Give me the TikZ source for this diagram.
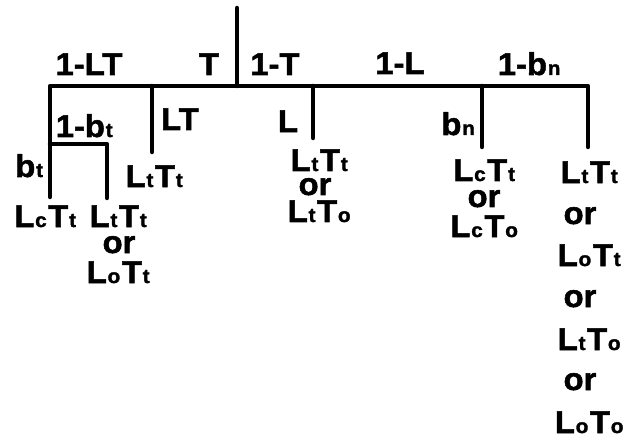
\documentclass[tikz,border=0pt]{standalone}
\usepackage{fontspec}
\setmainfont{Liberation Sans}
% heavy face for all labels
\newfontfamily\heavy{Liberation Sans}[UprightFont={* Bold}, FakeBold=1.6, FakeStretch=1.04]
% small index letters set on the baseline
\newcommand\lsub[1]{{\fontsize{20}{20}\selectfont\kern0.8pt#1\kern1.6pt}}
\tikzset{
  lab/.style={font=\heavy\fontsize{31.5}{31.5}\selectfont, inner sep=0pt, anchor=base},
  branch/.style={line width=4.5pt, line cap=round, line join=round}
}
\begin{document}
\begin{tikzpicture}[x=1pt,y=-1pt]
\useasboundingbox (0,0) rectangle (625,436);
% junction and end points of the tree
\coordinate (top) at (237,8);
\coordinate (hub) at (237,86);
\coordinate (hl) at (50,86);
\coordinate (hr) at (588,86);
\coordinate (e0) at (50,197);
\coordinate (j1) at (152,86);  \coordinate (e1) at (152,152);
\coordinate (j2) at (313,86);  \coordinate (e2) at (313,138);
\coordinate (j3) at (482,86);  \coordinate (e3) at (482,147);
\coordinate (e4) at (588,147);
\coordinate (sl) at (50,144);  \coordinate (sr) at (107,144);
\coordinate (se) at (107,198);
% branches
\draw[branch] (top) -- (hub);
\draw[branch] (e0) -- (hl) -- (hr) -- (e4);
\draw[branch] (j1) -- (e1);
\draw[branch] (j2) -- (e2);
\draw[branch] (j3) -- (e3);
\draw[branch] (sl) -- (sr) -- (se);
% branch labels
\node[lab] (p1) at (89,75) {1-LT};
\node[lab] (p2) at (209,75) {T};
\node[lab] (p3) at (275,75) {1-T};
\node[lab] (p4) at (400,74) {1-L};
\node[lab] (p5) at (530,75) {1-b\lsub{n}};
\node[lab] (p6) at (85,137) {1-b\lsub{t}};
\node[lab] (p7) at (180,130) {LT};
\node[lab] (p8) at (288,132) {L};
\node[lab] (p9) at (459,135) {b\lsub{n}};
\node[lab] (p10) at (30,177) {b\lsub{t}};
% outcomes
\node[lab] (o1) at (46,227) {L\lsub{c}T\lsub{t}};
\node[lab] (o2a) at (119,227) {L\lsub{t}T\lsub{t}};
\node[lab] (o2b) at (119,253) {or};
\node[lab] (o2c) at (119,283) {L\lsub{o}T\lsub{t}};
\node[lab] (o3) at (155,187) {L\lsub{t}T\lsub{t}};
\node[lab] (o4a) at (320,171) {L\lsub{t}T\lsub{t}};
\node[lab] (o4b) at (315,195) {or};
\node[lab] (o4c) at (320,222) {L\lsub{t}T\lsub{o}};
\node[lab] (o5a) at (485,181) {L\lsub{c}T\lsub{t}};
\node[lab] (o5b) at (484,207) {or};
\node[lab] (o5c) at (485,237) {L\lsub{c}T\lsub{o}};
\node[lab] (o6a) at (590,183) {L\lsub{t}T\lsub{t}};
\node[lab] (o6b) at (580,224) {or};
\node[lab] (o6c) at (590,266) {L\lsub{o}T\lsub{t}};
\node[lab] (o6d) at (580,307) {or};
\node[lab] (o6e) at (590,350) {L\lsub{t}T\lsub{o}};
\node[lab] (o6f) at (580,390) {or};
\node[lab] (o6g) at (590,433) {L\lsub{o}T\lsub{o}};
\end{tikzpicture}
\end{document}
